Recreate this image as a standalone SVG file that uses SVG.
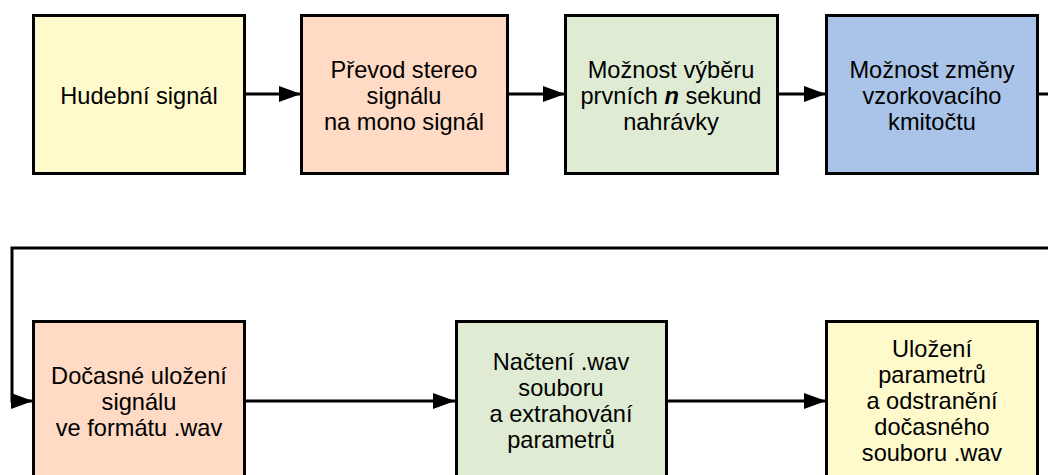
<svg xmlns="http://www.w3.org/2000/svg" width="1048" height="475" viewBox="0 0 1048 475">
<defs>
<style>
.box{stroke:#000;stroke-width:3}
.y{fill:#FFFACC}.p{fill:#FFDAC4}.g{fill:#DFECD3}.b{fill:#A9C4E8}
text{font-family:"Liberation Sans",Arial,sans-serif;font-size:23.6px;fill:#000;text-anchor:middle}
.c{fill:none;stroke:#000;stroke-width:3}
</style>
<marker id="ah" markerWidth="22" markerHeight="16" refX="22" refY="8" orient="auto" markerUnits="userSpaceOnUse">
<path d="M0,0 L22,8 L0,16 Z" fill="#000"/>
</marker>
</defs>
<rect width="1048" height="475" fill="#fff"/>
<g id="connectors">
<line class="c" x1="245" y1="94" x2="301" y2="94" marker-end="url(#ah)"/>
<line class="c" x1="507" y1="94" x2="565" y2="94" marker-end="url(#ah)"/>
<line class="c" x1="778" y1="94" x2="826" y2="94" marker-end="url(#ah)"/>
<polyline class="c" points="1038,94 1050,94"/>
<polyline class="c" points="1050,248 12,248 12,401 33,401" marker-end="url(#ah)"/>
<line class="c" x1="245" y1="401" x2="455" y2="401" marker-end="url(#ah)"/>
<line class="c" x1="667" y1="401" x2="826" y2="401" marker-end="url(#ah)"/>
</g>
<g id="n1"><rect class="box y" x="33.5" y="15.5" width="211" height="158"/>
<text x="139" y="104">Hudební signál</text></g>
<g id="n2"><rect class="box p" x="301.5" y="15.5" width="206" height="158"/>
<text x="404" y="78">Převod stereo</text><text x="404" y="104">signálu</text><text x="404" y="130">na mono signál</text></g>
<g id="n3"><rect class="box g" x="565.5" y="15.5" width="212" height="158"/>
<text x="671" y="78">Možnost výběru</text><text x="671" y="104">prvních <tspan font-weight="bold" font-style="italic">n</tspan> sekund</text><text x="671" y="130">nahrávky</text></g>
<g id="n4"><rect class="box b" x="826.5" y="15.5" width="211" height="158"/>
<text x="932" y="78">Možnost změny</text><text x="932" y="104">vzorkovacího</text><text x="932" y="130">kmitočtu</text></g>
<g id="n5"><rect class="box p" x="33.5" y="321.5" width="211" height="158"/>
<text x="139" y="384">Dočasné uložení</text><text x="139" y="410">signálu</text><text x="139" y="436">ve formátu .wav</text></g>
<g id="n6"><rect class="box g" x="456.5" y="321.5" width="210" height="158"/>
<text x="561" y="370">Načtení .wav</text><text x="561" y="396">souboru</text><text x="561" y="422">a extrahování</text><text x="561" y="448">parametrů</text></g>
<g id="n7"><rect class="box y" x="826.5" y="321.5" width="211" height="158"/>
<text x="932" y="357">Uložení</text><text x="932" y="383">parametrů</text><text x="932" y="409">a odstranění</text><text x="932" y="435">dočasného</text><text x="932" y="461">souboru .wav</text></g>
</svg>
